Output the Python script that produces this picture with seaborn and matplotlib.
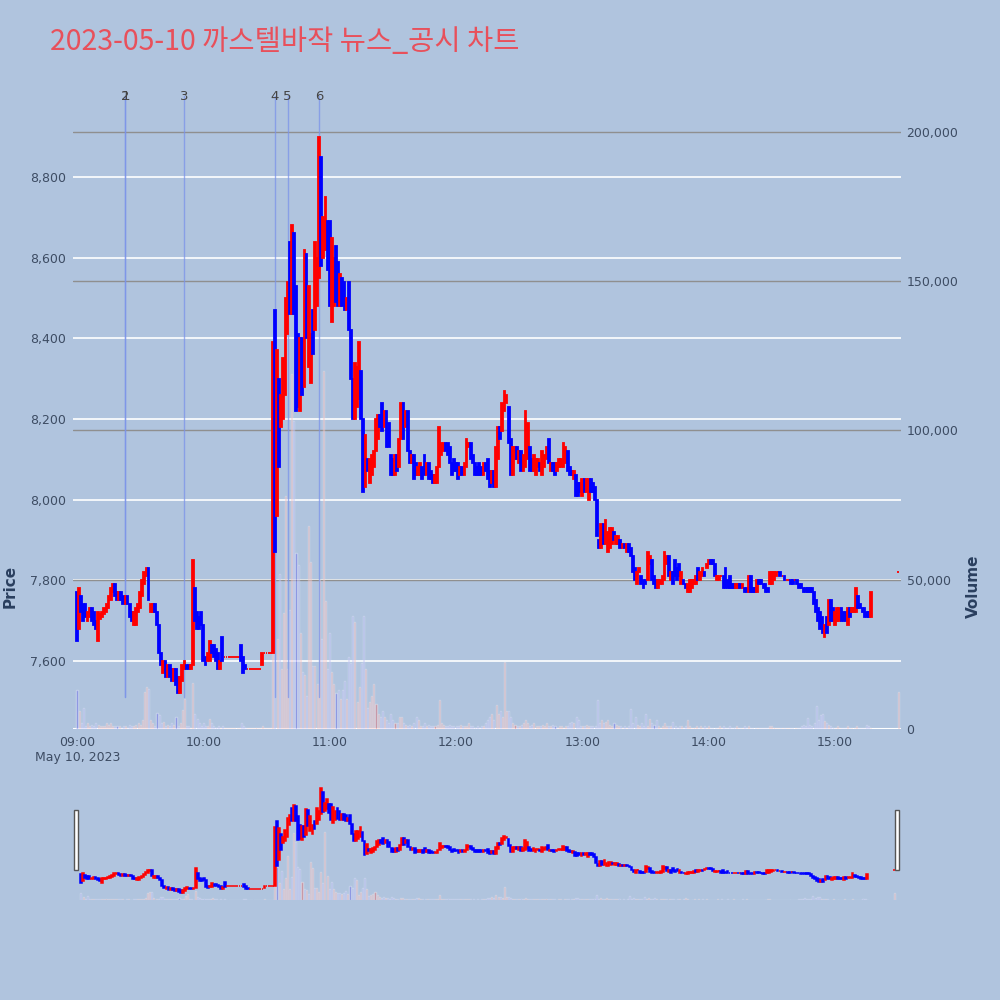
import numpy as np
import pandas as pd
import matplotlib.pyplot as plt
from matplotlib.patches import Rectangle
import seaborn as sns

# 1-minute candles, 09:00 .. 15:17 plus the 15:30 closing auction
opens = [
    7770, 7680, 7760, 7740, 7740, 7700, 7710, 7730, 7720, 7700,
    7650, 7705, 7710, 7715, 7720, 7730, 7750, 7770, 7790, 7770,
    7750, 7770, 7760, 7740, 7760, 7740, 7720, 7690, 7690, 7720,
    7730, 7760, 7790, 7810, 7830, 7720, 7720, 7740, 7720, 7690,
    7620, 7570, 7600, 7560, 7590, 7580, 7550, 7580, 7560, 7520,
    7550, 7580, 7590, 7590, 7580, 7590, 7780, 7720, 7710, 7720,
    7690, 7610, 7600, 7600, 7640, 7640, 7630, 7620, 7580, 7660,
    7610, 7610, 7610, 7610, 7610, 7610, 7610, 7610, 7640, 7610,
    7590, 7580, 7580, 7580, 7580, 7580, 7580, 7580, 7590, 7620,
    7620, 7620, 7620, 7620, 8470, 7960, 8300, 8180, 8200, 8260,
    8410, 8640, 8460, 8660, 8530, 8410, 8220, 8400, 8280, 8610,
    8330, 8290, 8470, 8420, 8480, 8550, 8850, 8600, 8620, 8690,
    8690, 8440, 8480, 8630, 8590, 8480, 8550, 8540, 8470, 8540,
    8420, 8300, 8200, 8230, 8250, 8320, 8200, 8030, 8100, 8040,
    8060, 8080, 8120, 8150, 8210, 8240, 8180, 8220, 8190, 8110,
    8100, 8060, 8110, 8080, 8150, 8240, 8180, 8220, 8120, 8090,
    8110, 8090, 8060, 8060, 8080, 8110, 8060, 8090, 8070, 8060,
    8040, 8040, 8080, 8110, 8120, 8140, 8140, 8130, 8090, 8100,
    8090, 8090, 8060, 8080, 8060, 8080, 8130, 8140, 8110, 8090,
    8080, 8090, 8080, 8060, 8090, 8100, 8070, 8040, 8070, 8030,
    8100, 8180, 8170, 8220, 8240, 8230, 8150, 8060, 8100, 8130,
    8090, 8120, 8070, 8080, 8100, 8130, 8100, 8070, 8060, 8080,
    8090, 8060, 8080, 8100, 8150, 8070, 8090, 8090, 8070, 8080,
    8080, 8080, 8090, 8120, 8080, 8070, 8050, 8060, 8040, 8040,
    8010, 8050, 8020, 8000, 8050, 8040, 8030, 8000, 7900, 7880,
    7940, 7890, 7870, 7880, 7890, 7920, 7890, 7890, 7900, 7880,
    7890, 7870, 7890, 7880, 7860, 7830, 7790, 7820, 7810, 7800,
    7800, 7800, 7840, 7850, 7810, 7800, 7780, 7790, 7790, 7800,
    7840, 7860, 7800, 7820, 7850, 7830, 7840, 7790, 7800, 7790,
    7770, 7770, 7780, 7790, 7790, 7830, 7800, 7810, 7820, 7830,
    7840, 7850, 7850, 7840, 7800, 7800, 7810, 7810, 7830, 7800,
    7810, 7790, 7790, 7780, 7780, 7790, 7780, 7780, 7780, 7770,
    7810, 7780, 7780, 7770, 7800, 7800, 7790, 7790, 7780, 7790,
    7790, 7800, 7810, 7820, 7820, 7810, 7810, 7800, 7800, 7800,
    7800, 7800, 7800, 7790, 7790, 7780, 7780, 7780, 7780, 7780,
    7770, 7750, 7730, 7720, 7710, 7660, 7710, 7690, 7750, 7730,
    7690, 7700, 7700, 7730, 7720, 7720, 7690, 7730, 7720, 7720,
    7720, 7760, 7740, 7730, 7730, 7720, 7720, 7710,
    7820,
]
closes = [
    7650, 7780, 7720, 7700, 7710, 7720, 7730, 7700, 7690, 7680,
    7720, 7715, 7720, 7730, 7740, 7760, 7780, 7790, 7760, 7750,
    7770, 7750, 7740, 7760, 7740, 7710, 7700, 7720, 7730, 7740,
    7770, 7800, 7820, 7830, 7750, 7740, 7740, 7720, 7690, 7620,
    7590, 7600, 7560, 7590, 7560, 7550, 7580, 7540, 7520, 7560,
    7590, 7600, 7580, 7580, 7590, 7850, 7700, 7680, 7680, 7690,
    7600, 7590, 7620, 7650, 7620, 7610, 7600, 7580, 7600, 7600,
    7610, 7610, 7610, 7610, 7610, 7610, 7610, 7610, 7600, 7570,
    7580, 7580, 7580, 7580, 7580, 7580, 7580, 7580, 7620, 7620,
    7620, 7620, 7620, 8390, 7870, 8370, 8080, 8260, 8350, 8500,
    8540, 8460, 8680, 8460, 8220, 8230, 8400, 8260, 8620, 8400,
    8530, 8410, 8360, 8640, 8600, 8900, 8580, 8700, 8750, 8570,
    8480, 8650, 8600, 8490, 8480, 8560, 8480, 8470, 8500, 8420,
    8300, 8200, 8340, 8330, 8390, 8200, 8020, 8160, 8070, 8100,
    8110, 8120, 8200, 8210, 8180, 8170, 8220, 8130, 8130, 8060,
    8060, 8110, 8070, 8150, 8240, 8150, 8220, 8120, 8090, 8110,
    8050, 8060, 8080, 8090, 8050, 8060, 8090, 8050, 8050, 8040,
    8060, 8080, 8180, 8140, 8140, 8120, 8110, 8090, 8060, 8070,
    8070, 8050, 8080, 8060, 8090, 8150, 8140, 8100, 8090, 8060,
    8060, 8060, 8060, 8090, 8070, 8050, 8030, 8070, 8030, 8130,
    8180, 8150, 8240, 8270, 8260, 8140, 8060, 8130, 8130, 8100,
    8120, 8070, 8110, 8220, 8190, 8070, 8070, 8110, 8100, 8100,
    8070, 8120, 8110, 8130, 8090, 8090, 8070, 8060, 8090, 8100,
    8100, 8140, 8130, 8070, 8060, 8060, 8070, 8010, 8010, 8020,
    8050, 8020, 8050, 8050, 8020, 8020, 8000, 7910, 7880, 7940,
    7890, 7950, 7920, 7930, 7930, 7900, 7910, 7910, 7880, 7890,
    7880, 7890, 7870, 7860, 7820, 7800, 7820, 7830, 7790, 7780,
    7790, 7870, 7860, 7800, 7790, 7780, 7800, 7800, 7810, 7870,
    7860, 7810, 7820, 7790, 7810, 7800, 7810, 7820, 7790, 7780,
    7790, 7800, 7800, 7800, 7810, 7800, 7820, 7830, 7810, 7840,
    7850, 7840, 7840, 7810, 7810, 7810, 7810, 7780, 7780, 7780,
    7780, 7780, 7780, 7790, 7790, 7780, 7790, 7770, 7770, 7810,
    7770, 7770, 7770, 7800, 7790, 7790, 7780, 7770, 7770, 7820,
    7820, 7820, 7820, 7820, 7810, 7810, 7800, 7800, 7800, 7790,
    7790, 7800, 7790, 7780, 7780, 7770, 7770, 7770, 7770, 7770,
    7740, 7720, 7700, 7680, 7670, 7690, 7670, 7750, 7700, 7700,
    7720, 7730, 7730, 7700, 7700, 7700, 7730, 7710, 7730, 7730,
    7780, 7730, 7730, 7720, 7710, 7710, 7710, 7770,
    7820,
]
# volume in thousands of shares
volumes_k = [
    13, 6, 2, 7, 1, 2, 1, 1.5, 1, 2,
    1.5, 1, 1, 1, 2, 1.5, 2, 1, 1, 1,
    1, 0.5, 1, 1, 0.5, 1.5, 1, 1, 1.5, 2,
    1.5, 3, 12.5, 14, 13.5, 3, 2, 1, 5.3, 4.7,
    2, 2.4, 1, 1.5, 1, 2, 1.5, 4, 1, 2,
    6.4, 10, 1, 1, 0.5, 15.4, 5, 3.4, 2, 1,
    2, 1, 1, 3.5, 2, 1, 0.5, 1, 0.5, 1,
    0.3, 0.3, 0.3, 0.3, 0.3, 0.3, 0.3, 0.3, 2, 1,
    0.5, 0.3, 0.3, 0.3, 0.3, 0.3, 0.3, 0.3, 1, 0.3,
    0.3, 0.3, 0.3, 130, 58, 30, 52, 20, 39, 78,
    20, 40, 119, 103, 59, 55, 32, 19, 18, 11,
    68, 56, 21, 21, 15, 50, 30, 120, 43, 20,
    32, 19, 15, 12, 13, 10, 13, 16, 10, 24,
    22, 38, 36, 9, 14, 22, 38, 20, 7, 9,
    11, 15, 8.5, 5, 4, 6, 4, 3, 2, 5,
    3, 2, 2, 4, 4, 2, 1.5, 1, 1.5, 1,
    2, 4, 3, 1, 1, 2, 1, 1.5, 1, 1,
    1, 1.5, 9.7, 2, 1.5, 1, 1, 1.5, 1, 1,
    1, 1, 1.5, 1, 1, 1, 2, 1, 1, 0.5,
    1, 0.5, 1, 1, 2, 3, 4, 5, 3, 8,
    5, 6, 4, 22.5, 6, 6, 4, 2, 1.5, 1,
    1, 1.5, 2, 3, 2, 1, 1.5, 2, 1, 1,
    1, 1.5, 1, 2, 1, 1, 1.5, 1, 0.5, 1,
    1, 0.5, 1, 1, 2, 2.5, 2, 4, 3, 1,
    1, 1, 1.5, 1, 1, 1, 1, 9.7, 2, 3,
    2, 2.5, 3, 1.5, 1, 2, 1.5, 1, 1, 0.5,
    1, 0.5, 1, 6.7, 2, 4, 1.5, 1, 2, 1,
    5, 1, 3.5, 2, 1.5, 3, 1, 0.5, 1, 2,
    1, 1, 1, 2.5, 1, 0.5, 1, 1, 0.5, 1,
    3, 1, 0.5, 0.5, 1, 0.5, 1, 0.5, 1, 0.5,
    1, 0.5, 0.5, 0.5, 0.5, 1, 0.5, 1, 0.5, 0.5,
    1, 0.5, 0.5, 1, 0.5, 0.5, 0.5, 1, 0.5, 1,
    0.5, 0.5, 0.5, 0.5, 0.5, 0.5, 0.3, 0.5, 0.5, 1,
    1, 0.5, 0.5, 0.3, 0.3, 0.5, 0.3, 0.3, 0.3, 0.3,
    0.3, 0.3, 0.3, 0.5, 1, 1.5, 1, 3.7, 1.5, 1,
    2, 7.7, 3, 4.7, 5, 2.6, 2, 1.5, 1, 0.5,
    0.5, 1, 0.5, 0.5, 0.5, 0.5, 1, 0.5, 0.5, 0.5,
    1, 0.5, 0.5, 0.5, 0.5, 1.5, 1, 0.5,
    12.4,
]
# minutes after 09:00 (continuous trading until 15:17, then the 15:30 auction)
minutes = list(range(378)) + [390]

news_labels = ["1", "2", "3", "4", "5", "6"]
news_minutes = [23, 23, 51, 94, 100, 115]

hour_labels = ["09:00", "10:00", "11:00", "12:00", "13:00", "14:00", "15:00"]
price_ticks = [7600, 7800, 8000, 8200, 8400, 8600, 8800]
volume_ticks = [0, 50000, 100000, 150000, 200000]

df = pd.DataFrame({"minute": minutes, "open": opens, "close": closes,
                   "volume": np.array(volumes_k) * 1000})
df["up"] = df["close"] >= df["open"]
df["color"] = np.where(df["up"], "#ff0000", "#0000ff")
df["low"] = df[["open", "close"]].min(axis=1)
df["body"] = (df["close"] - df["open"]).abs()

BG = "#b0c4de"
PLOT_BG = "#e5ecf6"
TXT = "#3d4c63"
XLIM = (-1.9, 391.3)
YLIM = (7431, 9001)
VLIM = (0, 212000)

sns.set_theme(style="white")
plt.rcParams["font.family"] = ["DejaVu Sans"]

fig = plt.figure(figsize=(10, 10), dpi=100, facecolor=BG)
ax = fig.add_axes([0.073, 0.271, 0.828, 0.633])
axv = ax.twinx()


def draw_candles(a, width=0.85, lw=1.3):
    a.bar(df["minute"], df["body"], bottom=df["low"], width=width,
          color=df["color"], edgecolor=df["color"], linewidth=lw, zorder=3)


def draw_volume(a, alpha=0.36):
    sns.barplot(data=df, x="minute", y="volume", hue="up",
                palette={True: "#ff0000", False: "#0000ff"},
                native_scale=True, width=0.5, alpha=alpha,
                legend=False, ax=a, zorder=1)


# volume on the secondary axis, drawn behind the candles
draw_volume(axv)
axv.set_ylim(*VLIM)
axv.set_yticks(volume_ticks)
axv.set_yticklabels([f"{v:,}" for v in volume_ticks], color=TXT, fontsize=9)
for v in volume_ticks[1:]:
    axv.axhline(v, color="#8f8f8f", lw=1.0, zorder=0.5)
axv.axhline(0, color="white", lw=1.5, zorder=0.5)
axv.set_ylabel("")
axv.set_xlabel("")
axv.tick_params(axis="y", length=0, pad=4)
axv.grid(False)

ax.set_zorder(axv.get_zorder() + 1)
ax.patch.set_visible(False)
axv.set_facecolor(PLOT_BG)

for p in price_ticks:
    axv.axhline((p - YLIM[0]) / (YLIM[1] - YLIM[0]) * VLIM[1], color="white", lw=1.2, zorder=0.4)

draw_candles(ax)

# news markers
for lab, m in zip(news_labels, news_minutes):
    ax.plot([m, m], [7510, YLIM[1]], color="#7b93ea", lw=1.0, alpha=0.75, zorder=2)
    ax.text(m, YLIM[1], lab, ha="center", va="center", color="#444444", fontsize=9.5,
            zorder=5, clip_on=False)

ax.set_xlim(*XLIM)
ax.set_ylim(*YLIM)
axv.set_xlim(*XLIM)
ax.set_yticks(price_ticks)
ax.set_yticklabels([f"{p:,}" for p in price_ticks], color=TXT, fontsize=9)
ax.set_xticks(range(0, 361, 60))
ax.set_xticklabels(hour_labels, color=TXT, fontsize=9)
ax.tick_params(axis="both", length=0, pad=5)
ax.set_ylabel("")
for a in (ax, axv):
    for s in a.spines.values():
        s.set_visible(False)

fig.text(0.010, 0.414, "Price", rotation=90, ha="center", va="center",
         color="#2a3f5f", fontsize=11, fontweight="bold")
fig.text(0.973, 0.414, "Volume", rotation=90, ha="center", va="center",
         color="#2a3f5f", fontsize=11, fontweight="bold")
fig.text(0.078, 0.242, "May 10, 2023", ha="center", va="center", color=TXT, fontsize=9)

# range slider
axs = fig.add_axes([0.077, 0.100, 0.820, 0.120])
axsv = axs.twinx()
draw_volume(axsv)
axsv.set_ylim(*VLIM)
axs.set_zorder(axsv.get_zorder() + 1)
axs.patch.set_visible(False)
axsv.set_facecolor(PLOT_BG)
draw_candles(axs, width=0.85, lw=1.1)
axs.set_xlim(*XLIM)
axsv.set_xlim(*XLIM)
axs.set_ylim(*YLIM)
for a in (axs, axsv):
    a.set_xticks([])
    a.set_yticks([])
    a.set_xlabel("")
    a.set_ylabel("")
    for s in a.spines.values():
        s.set_visible(False)

for hx in (0.0735, 0.8945):
    fig.patches.append(Rectangle((hx, 0.130), 0.0045, 0.060, transform=fig.transFigure,
                                 facecolor="white", edgecolor="#555555", lw=1.0))

fig.text(0.05, 0.958, "2023-05-10 까스텔바작 뉴스_공시 차트", ha="left", va="center",
         color="#e8505b", fontsize=20.5, family=["Noto Sans CJK KR", "DejaVu Sans"])

fig.savefig("out.png", dpi=100, facecolor=BG)
